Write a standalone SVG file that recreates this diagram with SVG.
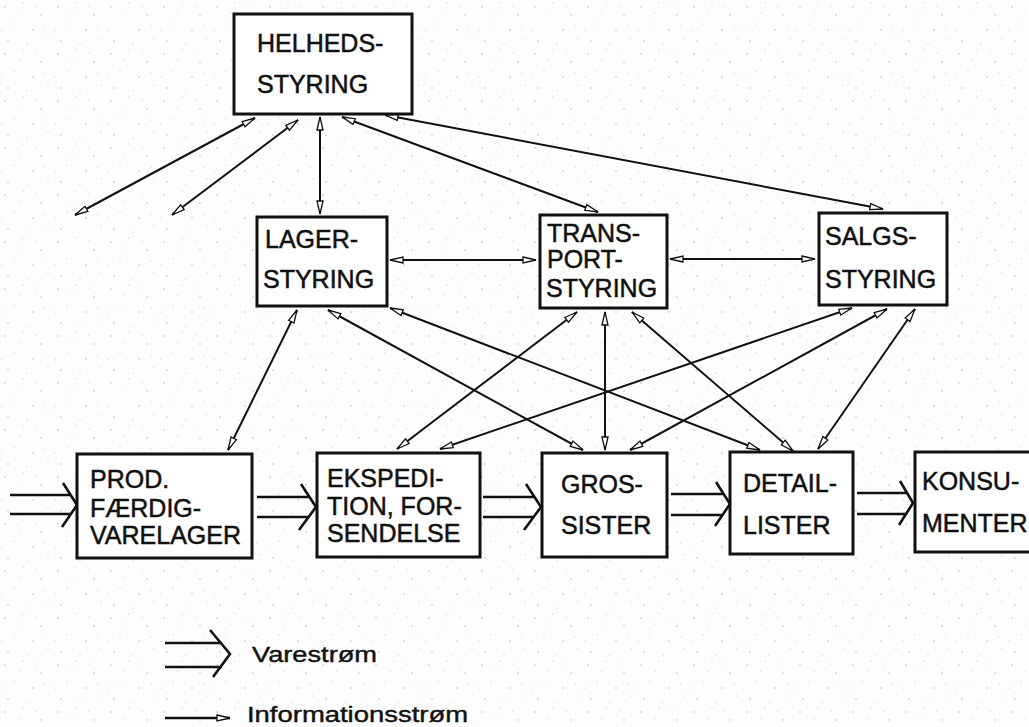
<svg xmlns="http://www.w3.org/2000/svg" width="1029" height="727" viewBox="0 0 1029 727">
<style>
.box{fill:#fff;stroke:#111;stroke-width:3}
.lbl{font-family:"Liberation Sans",Arial,sans-serif;font-size:25px;fill:#111;stroke:#111;stroke-width:0.5}
.leg{font-family:"Liberation Sans",Arial,sans-serif;font-size:22px;fill:#111;stroke:#111;stroke-width:0.4}
.info{fill:none;stroke:#111;stroke-width:2;marker-start:url(#ah);marker-end:url(#ah)}
.vare{fill:none;stroke:#111;stroke-width:2.6;stroke-linejoin:miter}
</style>
<defs>
<marker id="ah" markerUnits="userSpaceOnUse" markerWidth="16" markerHeight="10" refX="14" refY="4" orient="auto-start-reverse" viewBox="0 0 16 8">
<path d="M1,1 L14,4 L1,7 Z" fill="#fff" stroke="#111" stroke-width="1.3"/>
</marker>
<pattern id="dots" width="53" height="47" patternUnits="userSpaceOnUse">
<circle cx="5" cy="7" r="0.7" fill="#aaa"/><circle cx="23" cy="3" r="0.6" fill="#bbb"/><circle cx="41" cy="15" r="0.7" fill="#aaa"/>
<circle cx="14" cy="24" r="0.6" fill="#bbb"/><circle cx="33" cy="30" r="0.7" fill="#aaa"/><circle cx="48" cy="38" r="0.6" fill="#bbb"/>
<circle cx="8" cy="41" r="0.7" fill="#aaa"/><circle cx="27" cy="44" r="0.6" fill="#bbb"/><circle cx="19" cy="13" r="0.5" fill="#bbb"/>
<circle cx="45" cy="26" r="0.5" fill="#bbb"/><circle cx="2" cy="30" r="0.5" fill="#bbb"/><circle cx="36" cy="6" r="0.5" fill="#bbb"/>
</pattern>
</defs>
<rect width="1029" height="727" fill="#fdfdfd"/>
<rect width="1029" height="727" fill="url(#dots)"/>

<g id="connectors">
<line class="info" x1="255" y1="118" x2="75" y2="215"/>
<line class="info" x1="298" y1="120" x2="172" y2="215"/>
<line class="info" x1="320" y1="117" x2="320" y2="214"/>
<line class="info" x1="342" y1="117" x2="598" y2="212"/>
<line class="info" x1="385" y1="115" x2="883" y2="209"/>
<line class="info" x1="390" y1="260" x2="536" y2="260"/>
<line class="info" x1="670" y1="259" x2="815" y2="259"/>
<line class="info" x1="297" y1="310" x2="228" y2="450"/>
<line class="info" x1="328" y1="310" x2="583" y2="450"/>
<line class="info" x1="390" y1="308" x2="760" y2="450"/>
<line class="info" x1="632" y1="312" x2="793" y2="451"/>
<line class="info" x1="577" y1="312" x2="397" y2="449"/>
<line class="info" x1="605" y1="312" x2="605" y2="450"/>
<line class="info" x1="852" y1="308" x2="440" y2="449"/>
<line class="info" x1="887" y1="309" x2="630" y2="450"/>
<line class="info" x1="915" y1="309" x2="818" y2="449"/>

<g id="vare1"><path class="vare" d="M10,495 L70,495 M10,514 L70,514 M63,483 L77,505 L62,527"/></g>
<g id="vare2"><path class="vare" d="M257,497 L309,497 M257,517 L309,517 M301,484 L316,507 L299,530"/></g>
<g id="vare3"><path class="vare" d="M483,497 L534,497 M483,517 L534,517 M526,484 L541,507 L524,530"/></g>
<g id="vare4"><path class="vare" d="M671,494 L723,494 M671,515 L723,515 M716,482 L730,504 L715,526"/></g>
<g id="vare5"><path class="vare" d="M857,493 L907,493 M857,514 L907,514 M900,481 L913,503 L899,525"/></g>
</g>

<g id="helheds"><rect class="box" x="234" y="14" width="178" height="100"/>
<text class="lbl" x="257" y="52">HELHEDS-</text><text class="lbl" x="257" y="93">STYRING</text></g>

<g id="lager"><rect class="box" x="257" y="217" width="130" height="89"/>
<text class="lbl" x="265" y="248">LAGER-</text><text class="lbl" x="263" y="288">STYRING</text></g>

<g id="transport"><rect class="box" x="540" y="215" width="127" height="93"/>
<text class="lbl" x="547" y="242">TRANS-</text><text class="lbl" x="547" y="268">PORT-</text><text class="lbl" x="546" y="297">STYRING</text></g>

<g id="salgs"><rect class="box" x="819" y="213" width="128" height="92"/>
<text class="lbl" x="825" y="245">SALGS-</text><text class="lbl" x="825" y="288">STYRING</text></g>

<g id="prod"><rect class="box" x="77" y="454" width="175" height="104"/>
<text class="lbl" x="90" y="488">PROD.</text><text class="lbl" x="90" y="517">FÆRDIG-</text><text class="lbl" x="90" y="544">VARELAGER</text></g>

<g id="ekspedition"><rect class="box" x="317" y="453" width="163" height="104"/>
<text class="lbl" x="327" y="487">EKSPEDI-</text><text class="lbl" x="327" y="515">TION, FOR-</text><text class="lbl" x="327" y="542">SENDELSE</text></g>

<g id="grossister"><rect class="box" x="542" y="453" width="125" height="104"/>
<text class="lbl" x="561" y="493">GROS-</text><text class="lbl" x="561" y="534">SISTER</text></g>

<g id="detaillister"><rect class="box" x="730" y="452" width="123" height="102"/>
<text class="lbl" x="743" y="492">DETAIL-</text><text class="lbl" x="743" y="534">LISTER</text></g>

<g id="konsumenter"><rect class="box" x="915" y="452" width="130" height="100"/>
<text class="lbl" x="922" y="490">KONSU-</text><text class="lbl" x="922" y="532">MENTER</text></g>

<g id="legend">
<path class="vare" d="M165,643 L222,643 M165,667 L222,667 M210,630 L230,654 L213,677"/>
<text class="leg" x="252" y="662" textLength="125" lengthAdjust="spacingAndGlyphs">Varestrøm</text>
<line x1="165" y1="718" x2="230" y2="718" stroke="#111" stroke-width="2.4" marker-end="url(#ah)"/>
<text class="leg" x="247" y="722" textLength="221" lengthAdjust="spacingAndGlyphs">Informationsstrøm</text>
</g>
</svg>
